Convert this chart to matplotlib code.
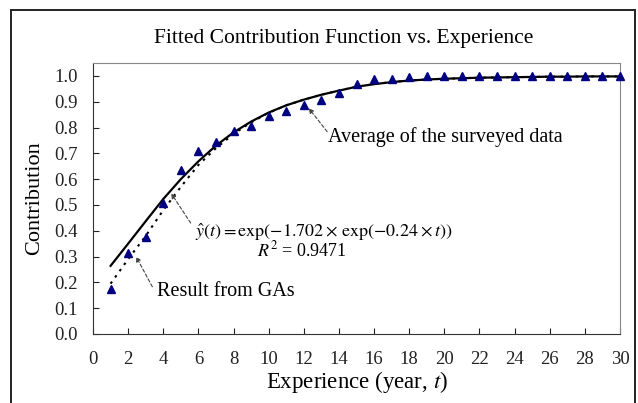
import matplotlib
matplotlib.use("Agg")
import matplotlib.pyplot as plt
from matplotlib.patches import Rectangle

plt.rcParams['font.family'] = ['Liberation Serif', 'DejaVu Serif']
plt.rcParams['mathtext.fontset'] = 'stix'

# Dados
anos = list(range(1, 31))
media_pesquisa = [0.175, 0.315, 0.377, 0.509, 0.636, 0.710, 0.745, 0.785, 0.806, 0.845,
                  0.865, 0.888, 0.907, 0.935, 0.967, 0.987, 0.988, 0.996, 0.998, 0.998,
                  0.998, 0.998, 0.998, 0.998, 0.998, 0.998, 0.998, 0.998, 0.998, 0.998]
curva_ajustada = [0.264, 0.350, 0.437, 0.523, 0.600, 0.669, 0.730, 0.781, 0.823, 0.858,
                  0.886, 0.908, 0.927, 0.943, 0.958, 0.968, 0.976, 0.982, 0.986, 0.989,
                  0.991, 0.993, 0.994, 0.995, 0.996, 0.997, 0.997, 0.998, 0.998, 0.998]
resultado_ga = [0.195, 0.290, 0.380, 0.480, 0.570, 0.655, 0.720, 0.775, 0.820, 0.857,
                0.886, 0.908, 0.927, 0.943, 0.958, 0.968, 0.976, 0.982, 0.986, 0.989,
                0.991, 0.993, 0.994, 0.995, 0.996, 0.997, 0.997, 0.998, 0.998, 0.998]
ticks_x = list(range(0, 31, 2))
ticks_y = [i / 10 for i in range(11)]

fig = plt.figure(figsize=(6.38, 4.03), dpi=100)
ax = fig.add_axes([93 / 638, 1 - 334 / 403, 527 / 638, 271 / 403])

# Moldura externa
fig.patches.append(Rectangle((11 / 638, -0.02), 624 / 638, 1.02 - 10 / 403,
                             transform=fig.transFigure, fill=False,
                             edgecolor='#222222', linewidth=1.4))

ax.plot(anos, curva_ajustada, color='black', linewidth=1.6, zorder=2)
ax.plot(anos, resultado_ga, color='black', linewidth=1.5,
        linestyle=(0, (1.2, 2.5)), zorder=2)
ax.plot(anos, media_pesquisa, linestyle='none', marker='^', markersize=6,
        color='#000080', zorder=3, clip_on=False)

ax.set_xlim(0, 30)
ax.set_ylim(0, 1.05)
ax.set_xticks(ticks_x)
ax.set_yticks(ticks_y)
ax.set_yticklabels([f"{v:.1f}" for v in ticks_y])
ax.tick_params(direction='in', length=4, labelsize=13.5, colors='#222222')
ax.tick_params(axis='x', pad=12)
ax.tick_params(axis='y', pad=11)
for lado in ['left', 'bottom']:
    ax.spines[lado].set_color('#333333')
for lado in ['top', 'right']:
    ax.spines[lado].set_color('#888888')

ax.set_xlabel(r"Experience (year, $t$)", fontsize=16.5, labelpad=1)
ax.set_ylabel("Contribution", fontsize=16, labelpad=7)
fig.text(344 / 638, 1 - 38 / 403, "Fitted Contribution Function vs. Experience",
         ha='center', va='center', fontsize=15.5)

seta = dict(arrowstyle='-|>', linestyle=(0, (3, 2)), color='#444444',
            linewidth=0.8, mutation_scale=7, shrinkA=0, shrinkB=0)

ax.text(5.8, 0.395, r"$\hat{y}(t) = \mathrm{exp}(-1.702\times\,\mathrm{exp}(-0.24\times t))$",
        fontsize=13, va='center', ha='left')
ax.annotate("", xy=(4.45, 0.545), xytext=(5.56, 0.43), arrowprops=seta)
ax.text(9.35, 0.322, r"$R^2$ = 0.9471", fontsize=13, va='center', ha='left')
ax.text(3.67, 0.164, "Result from GAs", fontsize=14.5, va='center', ha='left')
ax.annotate("", xy=(2.45, 0.30), xytext=(3.38, 0.183), arrowprops=seta)
ax.text(13.4, 0.765, "Average of the surveyed data", fontsize=14.5, va='center', ha='left')
ax.annotate("", xy=(12.28, 0.875), xytext=(13.33, 0.784), arrowprops=seta)

fig.savefig("out.png", dpi=100)
